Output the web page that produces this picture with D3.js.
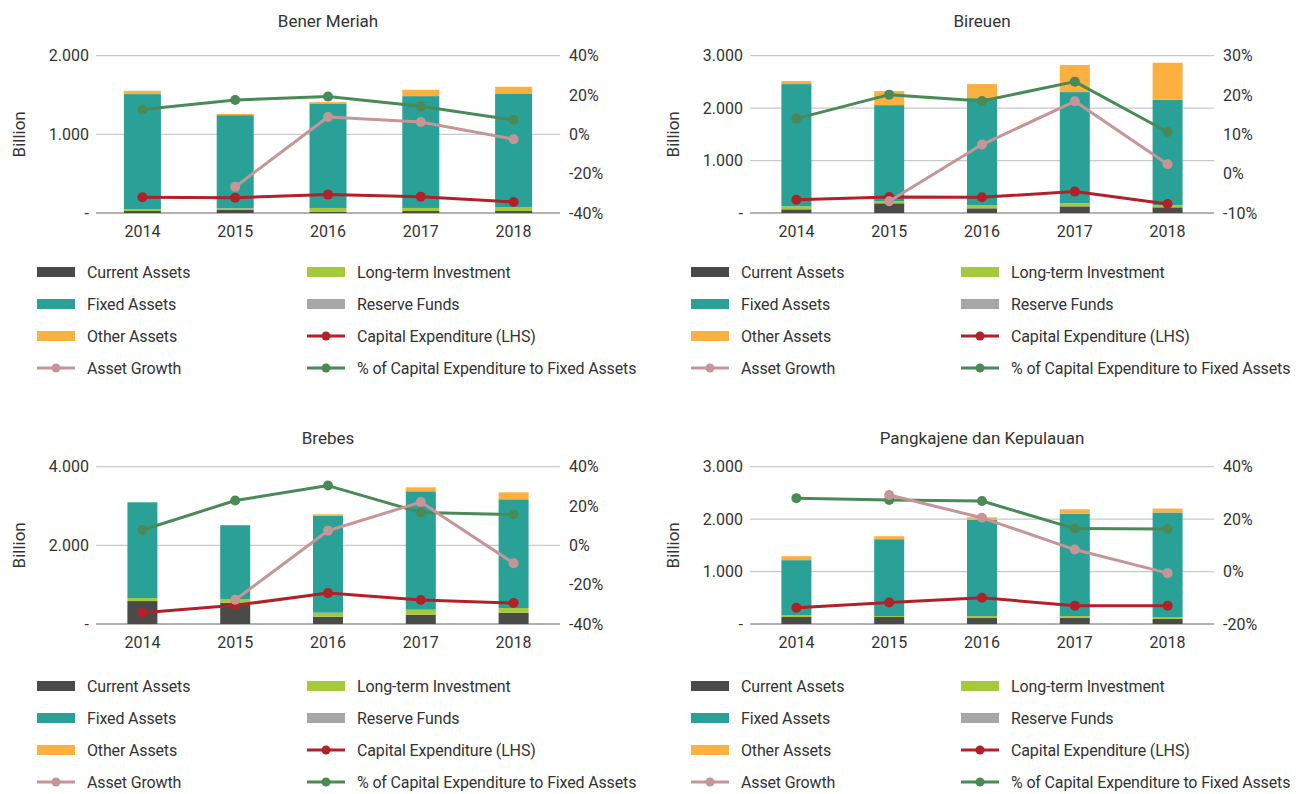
<!DOCTYPE html>
<html>
<head>
<meta charset="utf-8">
<script src="https://cdn.jsdelivr.net/npm/d3@7"></script>
<style>
  html, body { margin: 0; padding: 0; background: #ffffff; }
  svg { display: block; }
  text { font-family: Roboto, "Noto Sans", sans-serif; fill: #333333; }
</style>
</head>
<body>
<svg id="chart" width="1306" height="794"></svg>
<script>
// Regional balance-sheet data, billions of rupiah (bars + capex) and percentages (growth lines)
const years = ["2014", "2015", "2016", "2017", "2018"];
const regions = ["Bener Meriah", "Bireuen", "Brebes", "Pangkajene dan Kepulauan"];

// Stacked asset components, one row per region
const currentAssets = [
  [25, 38, 17, 25, 25],
  [70, 185, 89, 127, 108],
  [583, 541, 186, 237, 288],
  [133, 133, 114, 114, 95]
];
const longTermInvestment = [
  [22, 21, 47, 39, 51],
  [57, 38, 57, 64, 38],
  [77, 93, 102, 127, 118],
  [38, 19, 38, 38, 38]
];
const fixedAssets = [
  [1465, 1185, 1329, 1422, 1444],
  [2332, 1834, 2045, 2115, 2013],
  [2435, 1878, 2469, 3010, 2765],
  [1047, 1465, 1833, 1953, 1993]
];
const reserveFunds = [
  [0, 0, 0, 0, 0],
  [0, 0, 0, 0, 0],
  [0, 0, 0, 0, 0],
  [0, 0, 0, 0, 0]
];
const otherAssets = [
  [42, 17, 17, 81, 85],
  [57, 268, 268, 516, 707],
  [0, 0, 34, 102, 178],
  [76, 57, 50, 83, 76]
];

// Capital expenditure (left axis)
const capitalExpenditure = [
  [200, 195, 234, 208, 140],
  [255, 306, 299, 408, 172],
  [288, 474, 786, 609, 533],
  [311, 412, 501, 349, 349]
];

// Percent series (right axis)
const assetGrowth = [
  [null, -26.7, 8.8, 6.3, -2.5],
  [null, -7.0, 7.4, 18.4, 2.4],
  [null, -27.7, 7.4, 22.0, -9.1],
  [null, 29.2, 20.5, 8.4, -0.6]
];
const capexToFixed = [
  [12.6, 17.5, 19.2, 14.3, 7.3],
  [14.0, 20.1, 18.5, 23.4, 10.6],
  [7.8, 22.8, 30.4, 16.7, 15.7],
  [28.0, 27.3, 26.9, 16.4, 16.2]
];

// Axis tick values
const leftTicks = [
  [0, 1000, 2000],
  [0, 1000, 2000, 3000],
  [0, 2000, 4000],
  [0, 1000, 2000, 3000]
];
const rightTicks = [
  [-40, -20, 0, 20, 40],
  [-10, 0, 10, 20, 30],
  [-40, -20, 0, 20, 40],
  [-20, 0, 20, 40]
];

const stackKeys = ["Current Assets", "Long-term Investment", "Reserve Funds", "Fixed Assets", "Other Assets"];
const stackSources = [currentAssets, longTermInvestment, reserveFunds, fixedAssets, otherAssets];

const colors = {
  "Current Assets": "#4a4a49",
  "Long-term Investment": "#a6c93b",
  "Fixed Assets": "#2aa197",
  "Reserve Funds": "#a7a7a7",
  "Other Assets": "#fbb040",
  "Capital Expenditure (LHS)": "#b0212a",
  "Asset Growth": "#c69598",
  "% of Capital Expenditure to Fixed Assets": "#4a8a57"
};

const legendItems = [
  ["Current Assets", "rect"], ["Long-term Investment", "rect"],
  ["Fixed Assets", "rect"], ["Reserve Funds", "rect"],
  ["Other Assets", "rect"], ["Capital Expenditure (LHS)", "line"],
  ["Asset Growth", "line"], ["% of Capital Expenditure to Fixed Assets", "line"]
];

// Panel placement
const panels = [
  { dx: 0,   top: 0,   barW: 37, legendY: 272 },
  { dx: 654, top: 0,   barW: 30, legendY: 272 },
  { dx: 0,   top: 411, barW: 30, legendY: 275 },
  { dx: 654, top: 411, barW: 30, legendY: 275 }
];

const locale = d3.formatLocale({ decimal: ",", thousands: ".", grouping: [3], currency: ["", ""] });
const fmtThousands = locale.format(",d");
const fmtLeft = v => v === 0 ? "-" : fmtThousands(v);
const fmtPct = v => v + "%";

const svg = d3.select("#chart");

regions.forEach((name, r) => {
  const p = panels[r];
  const g = svg.append("g").attr("transform", `translate(${p.dx},${p.top})`);

  const x0 = 96, x1 = 560, yTop = 55.7, yBase = 213;

  const x = d3.scaleBand().domain(years).range([x0, x1]).padding(0);
  const lt = leftTicks[r], rt = rightTicks[r];
  const yL = d3.scaleLinear().domain([lt[0], lt[lt.length - 1]]).range([yBase, yTop]);
  const yR = d3.scaleLinear().domain([rt[0], rt[rt.length - 1]]).range([yBase, yTop]);

  // Title
  g.append("text")
    .attr("x", 328).attr("y", (r < 2 ? 20.5 : 26.5))
    .attr("text-anchor", "middle").attr("dominant-baseline", "central")
    .style("font-size", "17px")
    .text(name);

  // Gridlines from the left axis
  g.append("g").selectAll("line").data(lt).join("line")
    .attr("x1", x0).attr("x2", x1)
    .attr("y1", d => yL(d)).attr("y2", d => yL(d))
    .attr("stroke", d => d === 0 ? "#b3b3b3" : "#c9c9c9")
    .attr("stroke-width", d => d === 0 ? 2 : 1.3);

  // Left axis labels
  const axL = g.append("g").attr("transform", `translate(${x0},0)`)
    .call(d3.axisLeft(yL).tickValues(lt).tickFormat(fmtLeft).tickSize(0).tickPadding(7));
  axL.select(".domain").remove();
  axL.selectAll("text").style("font-size", "16px").attr("fill", "#333");

  // Right axis labels
  const axR = g.append("g").attr("transform", `translate(${x1},0)`)
    .call(d3.axisRight(yR).tickValues(rt).tickFormat(fmtPct).tickSize(0).tickPadding(9));
  axR.select(".domain").remove();
  axR.selectAll("text").style("font-size", "16px").attr("fill", "#333");

  // Y axis title
  g.append("text")
    .attr("transform", `translate(19,${(yTop + yBase) / 2}) rotate(-90)`)
    .attr("text-anchor", "middle").attr("dominant-baseline", "central")
    .style("font-size", "17px")
    .text("Billion");

  // X axis labels
  const axX = g.append("g").attr("transform", `translate(0,${yBase})`)
    .call(d3.axisBottom(x).tickSize(0).tickPadding(13));
  axX.select(".domain").remove();
  axX.selectAll("text").style("font-size", "16px").attr("fill", "#333");

  // Stacked bars
  const table = years.map((yr, i) => {
    const row = { year: yr };
    stackKeys.forEach((k, s) => { row[k] = stackSources[s][r][i]; });
    return row;
  });
  const series = d3.stack().keys(stackKeys)(table);
  g.append("g").selectAll("g").data(series).join("g")
    .attr("fill", d => colors[d.key])
    .selectAll("rect").data(d => d).join("rect")
    .attr("x", d => x(d.data.year) + x.bandwidth() / 2 - p.barW / 2)
    .attr("width", p.barW)
    .attr("y", d => yL(d[1]))
    .attr("height", d => Math.max(0, yL(d[0]) - yL(d[1])));

  // Line series
  const cx = yr => x(yr) + x.bandwidth() / 2;
  const lineSets = [
    { key: "Capital Expenditure (LHS)", values: capitalExpenditure[r], scale: yL },
    { key: "% of Capital Expenditure to Fixed Assets", values: capexToFixed[r], scale: yR },
    { key: "Asset Growth", values: assetGrowth[r], scale: yR }
  ];
  lineSets.forEach(ls => {
    const pts = years.map((yr, i) => ({ yr, v: ls.values[i] })).filter(d => d.v !== null);
    const line = d3.line().x(d => cx(d.yr)).y(d => ls.scale(d.v));
    g.append("path").datum(pts)
      .attr("d", line)
      .attr("fill", "none")
      .attr("stroke", colors[ls.key])
      .attr("stroke-width", 3)
      .attr("stroke-linejoin", "round");
    g.append("g").selectAll("circle").data(pts).join("circle")
      .attr("cx", d => cx(d.yr)).attr("cy", d => ls.scale(d.v))
      .attr("r", 5)
      .attr("fill", colors[ls.key]);
  });

  // Legend
  const lg = g.append("g");
  legendItems.forEach(([label, kind], i) => {
    const col = i % 2, row = Math.floor(i / 2);
    const sx = col === 0 ? 37 : 307;
    const sy = p.legendY + row * 32;
    if (kind === "rect") {
      lg.append("rect").attr("x", sx).attr("y", sy - 5).attr("width", 38).attr("height", 10)
        .attr("fill", colors[label]);
    } else {
      lg.append("line").attr("x1", sx).attr("x2", sx + 38).attr("y1", sy).attr("y2", sy)
        .attr("stroke", colors[label]).attr("stroke-width", 3);
      lg.append("circle").attr("cx", sx + 19).attr("cy", sy).attr("r", 4.5)
        .attr("fill", colors[label]);
    }
    lg.append("text").attr("x", sx + 50).attr("y", sy)
      .attr("dominant-baseline", "central")
      .style("font-size", "16px")
      .style("letter-spacing", "-0.15px")
      .text(label);
  });
});
</script>
</body>
</html>
